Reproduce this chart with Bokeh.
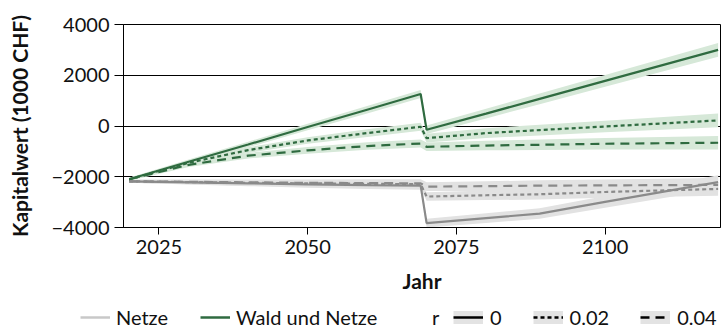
from bokeh.plotting import figure
from bokeh.layouts import column
from bokeh.models import Range1d, Legend, LegendItem, FixedTicker
from bokeh.embed import file_html
from bokeh.resources import INLINE

# ---- data ----
years = [2020, 2030, 2040, 2050, 2060, 2069, 2070, 2080, 2089, 2100, 2119]

wald_r0 = [-2100, -1410, -730, -40, 640, 1260, -150, 490, 1070, 1780, 3000]
wald_r002 = [-2100, -1450, -950, -570, -280, -30, -480, -280, -160, -20, 220]
wald_r004 = [-2100, -1530, -1170, -960, -790, -690, -820, -770, -740, -700, -660]

netze_r0 = [-2180, -2220, -2260, -2300, -2330, -2350, -3830, -3630, -3450, -2990, -2210]
netze_r002 = [-2180, -2210, -2240, -2260, -2280, -2290, -2780, -2730, -2690, -2600, -2480]
netze_r004 = [-2180, -2200, -2220, -2240, -2250, -2260, -2390, -2370, -2350, -2340, -2320]

# half-width of the uncertainty ribbons
spread = [60, 90, 110, 130, 150, 160, 170, 190, 210, 230, 270]

rates = ["0", "0.02", "0.04"]
x_ticks = [2025, 2050, 2075, 2100]
y_ticks = [-4000, -2000, 0, 2000, 4000]
y_tick_labels = {-4000: "\u22124000", -2000: "\u22122000", 0: "0", 2000: "2000", 4000: "4000"}

GREEN = "#2f6b40"
GREEN_BAND = "#d6e8d8"
GREY = "#8a8a8a"
GREY_BAND = "#e2e2e2"
GREY_KEY = "#c8c8c8"
FONT = "Lato"
dashes = {"0": "solid", "0.02": "4 3", "0.04": "9 6"}
NAN = float("nan")

p = figure(width=721, height=300, output_backend="svg", toolbar_location=None,
           title=None,
           x_range=Range1d(2019.05, 2119.4), y_range=Range1d(-4000, 4000),
           min_border_left=123, min_border_right=1, min_border_top=24,
           min_border_bottom=73)

p.background_fill_color = "white"
p.border_fill_color = "white"
p.outline_line_color = "black"
p.outline_line_width = 1

p.xgrid.visible = False
p.ygrid.ticker = FixedTicker(ticks=y_ticks)
p.ygrid.grid_line_color = "black"
p.ygrid.grid_line_width = 1

for ax in (p.xaxis[0], p.yaxis[0]):
    ax.axis_line_color = "black"
    ax.major_tick_line_color = "black"
    ax.minor_tick_line_color = None
    ax.major_tick_in = 0
    ax.major_label_text_font = FONT
    ax.major_label_text_font_size = "20px"
    ax.major_label_text_color = "#111111"
    ax.axis_label_text_font = FONT
    ax.axis_label_text_font_style = "bold"
    ax.axis_label_text_font_size = "21px"
    ax.axis_label_text_color = "#111111"

p.xaxis.ticker = FixedTicker(ticks=x_ticks)
p.xaxis.major_tick_out = 7
p.xaxis.major_label_standoff = 5
p.xaxis.axis_label = "Jahr"
p.xaxis.axis_label_standoff = 11

p.yaxis.ticker = FixedTicker(ticks=y_ticks)
p.yaxis.major_label_overrides = y_tick_labels
p.yaxis.major_tick_out = 9
p.yaxis.major_label_standoff = 5
p.yaxis.axis_label = "Kapitalwert (1000 CHF)"
p.yaxis.axis_label_standoff = 17

series_netze = {"0": netze_r0, "0.02": netze_r002, "0.04": netze_r004}
series_wald = {"0": wald_r0, "0.02": wald_r002, "0.04": wald_r004}

# ribbons
for r in rates:
    ys = series_netze[r]
    p.varea(x=years, y1=[v - s for v, s in zip(ys, spread)],
            y2=[v + s for v, s in zip(ys, spread)], fill_color=GREY_BAND, fill_alpha=1)
for r in rates:
    ys = series_wald[r]
    p.varea(x=years, y1=[v - s for v, s in zip(ys, spread)],
            y2=[v + s for v, s in zip(ys, spread)], fill_color=GREEN_BAND, fill_alpha=1)

# lines
for r in rates:
    p.line(years, series_netze[r], line_color=GREY, line_width=2.2, line_dash=dashes[r])
for r in rates:
    p.line(years, series_wald[r], line_color=GREEN, line_width=2.2, line_dash=dashes[r])

# ---- legend strip below the chart ----
lg = figure(width=721, height=29, output_backend="svg", toolbar_location=None,
            title=None, x_axis_location=None, y_axis_location=None,
            x_range=Range1d(0, 1), y_range=Range1d(0, 1), min_border=0)
lg.outline_line_color = None
lg.grid.visible = False
lg.background_fill_color = "white"
lg.border_fill_color = "white"
if hasattr(lg, "frame_align"):
    lg.frame_align = False
    p.frame_align = False

# key renderers: one empty (NaN) point each, so only the legend key shows
k_netze = lg.line([NAN], [NAN], line_color=GREY_KEY, line_width=2.5)
k_wald = lg.line([NAN], [NAN], line_color=GREEN, line_width=2.5)
k_blank = lg.line([NAN], [NAN], line_alpha=0)
k_bg = lg.line([NAN], [NAN], line_color="#e3e3e3", line_width=13, line_cap="butt")
k_rate = {r: lg.line([NAN], [NAN], line_color="black", line_width=2.5, line_dash=dashes[r])
          for r in rates}

def style(leg):
    leg.orientation = "horizontal"
    leg.padding = 0
    leg.margin = 0
    leg.border_line_color = None
    leg.background_fill_alpha = 0
    leg.label_text_font = FONT
    leg.label_text_font_size = "20px"
    leg.label_text_color = "#111111"
    leg.glyph_height = 16
    leg.label_height = 16
    leg.label_width = 0

LEG_Y = 0
leg_a = Legend(items=[LegendItem(label="Netze", renderers=[k_netze]),
                      LegendItem(label="Wald und Netze", renderers=[k_wald])],
               location=(80, LEG_Y))
style(leg_a)
leg_a.glyph_width = 30
leg_a.label_standoff = 6
leg_a.spacing = 32

leg_r = Legend(items=[LegendItem(label="r", renderers=[k_blank])], location=(432, LEG_Y))
style(leg_r)
leg_r.glyph_width = 0
leg_r.label_standoff = 0

leg_b = Legend(items=[LegendItem(label=r, renderers=[k_bg, k_rate[r]]) for r in rates],
               location=(453, LEG_Y))
style(leg_b)
leg_b.glyph_width = 30
leg_b.label_standoff = 7
leg_b.spacing = 31

for leg in (leg_a, leg_r, leg_b):
    lg.add_layout(leg, "center")

layout = column(p, lg, spacing=0)
open("out.html", "w").write(file_html(layout, INLINE))
